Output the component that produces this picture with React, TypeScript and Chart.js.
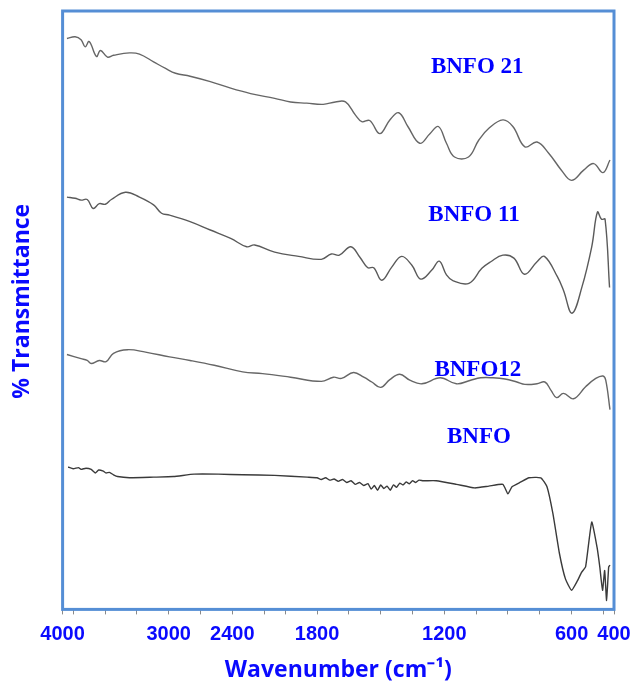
import React, { useEffect, useRef } from 'react';
import { Chart, registerables } from 'chart.js';

Chart.register(...registerables);

// Axis is compressed 2x above 2000 cm-1 (usual FTIR break)
const AXIS_BREAK = 2000;
const toAxis = (wn: number) => (wn > AXIS_BREAK ? AXIS_BREAK + (wn - AXIS_BREAK) / 2 : wn);
const fromAxis = (u: number) => (u > AXIS_BREAK ? AXIS_BREAK + (u - AXIS_BREAK) * 2 : u);

const TICK_LABELS = [4000, 3000, 2400, 1800, 1200, 600, 400];
const MINOR_TICKS = [3900, 3600, 3300, 2700, 2100, 1950, 1650, 1500, 1350, 1050, 900, 750, 450];

const BNFO21_WN = [3959, 3882, 3826, 3787, 3749, 3681, 3643, 3577, 3520, 3369, 3275, 3142, 3029, 2935, 2798, 2607, 2415, 2227, 2000, 1925, 1849, 1771, 1714, 1666, 1619, 1589, 1552, 1504, 1457, 1415, 1372, 1316, 1268, 1228, 1190, 1152, 1086, 1038, 990, 924, 877, 820, 763, 707, 648, 600, 543, 496, 452, 419];
const BNFO21_T = [95.4, 95.7, 95.2, 94.0, 94.9, 92.4, 93.4, 92.3, 92.6, 93.0, 92.8, 91.5, 90.4, 89.6, 89.1, 88.2, 87.1, 86.2, 85.4, 84.8, 84.6, 84.4, 84.8, 84.8, 82.6, 81.5, 81.7, 79.5, 81.8, 83.0, 80.7, 77.9, 79.5, 80.7, 77.9, 75.6, 75.6, 78.4, 80.4, 81.8, 80.7, 77.3, 78.1, 76.2, 73.4, 71.7, 73.4, 74.5, 73.0, 75.1];

const BNFO11_WN = [3959, 3882, 3826, 3768, 3712, 3654, 3597, 3540, 3407, 3275, 3142, 3067, 2991, 2798, 2607, 2415, 2264, 2189, 2000, 1887, 1780, 1733, 1695, 1641, 1599, 1561, 1533, 1495, 1448, 1401, 1353, 1311, 1259, 1224, 1190, 1158, 1084, 1023, 981, 924, 872, 822, 763, 728, 667, 638, 598, 551, 505, 478, 459, 442, 421];
const BNFO11_T = [68.9, 68.7, 68.4, 68.5, 67.0, 67.8, 67.7, 68.5, 69.7, 68.9, 67.6, 66.2, 65.9, 64.8, 63.4, 62.0, 60.6, 60.9, 59.7, 59.0, 58.5, 59.4, 59.2, 60.6, 58.9, 57.1, 57.1, 55.0, 57.2, 59.0, 57.5, 55.2, 56.7, 58.2, 55.9, 54.9, 54.5, 57.0, 58.1, 59.2, 58.7, 56.0, 58.1, 59.0, 55.6, 53.3, 49.5, 53.9, 60.6, 66.4, 65.2, 65.2, 53.8];

const BNFO12_WN = [3959, 3826, 3768, 3730, 3654, 3590, 3520, 3388, 3218, 2991, 2798, 2570, 2302, 2114, 1925, 1780, 1723, 1685, 1628, 1580, 1542, 1500, 1457, 1410, 1363, 1306, 1219, 1143, 1076, 1029, 971, 914, 858, 820, 763, 726, 697, 671, 638, 591, 534, 486, 452, 439, 419];
const BNFO12_T = [42.6, 41.9, 41.6, 41.1, 41.6, 41.4, 42.8, 43.4, 43.0, 42.2, 41.6, 40.8, 39.7, 39.4, 38.8, 38.1, 38.8, 38.6, 39.6, 38.8, 38.0, 37.1, 38.4, 39.3, 38.3, 37.7, 38.7, 37.7, 38.3, 38.7, 38.7, 38.5, 38.0, 37.6, 37.7, 38.0, 36.6, 35.4, 36.1, 35.2, 37.2, 38.6, 39.0, 38.3, 33.4];

const BNFO_WN = [3948, 3900, 3850, 3826, 3780, 3730, 3692, 3660, 3616, 3590, 3558, 3520, 3482, 3369, 3142, 2954, 2760, 2532, 2302, 2000, 1847, 1800, 1780, 1760, 1740, 1720, 1700, 1680, 1660, 1640, 1620, 1600, 1580, 1560, 1545, 1530, 1515, 1500, 1485, 1470, 1455, 1440, 1425, 1410, 1395, 1380, 1365, 1350, 1335, 1320, 1300, 1238, 1143, 1057, 990, 924, 900, 881, 839, 801, 745, 716, 688, 657, 629, 600, 572, 553, 534, 505, 480, 467, 454, 444, 435, 425, 419];
const BNFO_T = [23.8, 23.5, 23.7, 23.4, 23.6, 23.4, 22.8, 23.3, 23.1, 22.8, 22.9, 22.5, 22.2, 22.0, 22.1, 22.2, 22.6, 22.6, 22.5, 22.4, 22.1, 22.0, 21.7, 22.0, 21.6, 21.8, 21.4, 21.7, 21.2, 21.5, 20.9, 21.2, 20.7, 21.0, 20.1, 20.7, 19.9, 20.8, 20.2, 20.6, 19.9, 20.8, 20.4, 21.1, 20.8, 21.3, 21.0, 21.5, 21.2, 21.6, 21.5, 21.5, 20.9, 20.3, 20.6, 20.9, 19.3, 20.5, 21.3, 22.0, 22.0, 20.5, 16.0, 9.3, 5.1, 3.2, 4.8, 6.2, 7.1, 14.6, 10.4, 7.1, 3.2, 6.5, 1.5, 7.1, 7.4];

const CURVE_LABELS = ['BNFO 21', 'BNFO 11', 'BNFO12', 'BNFO'];
const LABEL_WN = [1045, 1060, 1042, 1037];
const LABEL_T = [90.6, 65.9, 40.0, 28.8];

const BLUE = '#0a0aff';
const FRAME = '#558ed5';

const toPoints = (wn: number[], t: number[]) => wn.map((w, i) => ({ x: toAxis(w), y: t[i] }));

const framePlugin = {
  id: 'frameAndLabels',
  afterDatasetsDraw(chart: any) {
    const { ctx, chartArea, scales } = chart;
    ctx.save();
    ctx.strokeStyle = FRAME;
    ctx.lineWidth = 3;
    ctx.strokeRect(chartArea.left, chartArea.top, chartArea.right - chartArea.left, chartArea.bottom - chartArea.top);
    ctx.fillStyle = '#0000ff';
    ctx.font = 'bold 23px "Liberation Serif", "Times New Roman", serif';
    ctx.textAlign = 'center';
    ctx.textBaseline = 'middle';
    CURVE_LABELS.forEach((txt, i) => {
      const x = scales.x.getPixelForValue(toAxis(LABEL_WN[i]));
      const y = scales.y.getPixelForValue(LABEL_T[i]);
      ctx.fillText(txt, x, y);
    });
    ctx.restore();
  },
};

export default function App() {
  const ref = useRef<HTMLCanvasElement | null>(null);
  useEffect(() => {
    document.body.style.margin = '0';
    if (!ref.current) return;
    const lineDs = (label: string, wn: number[], t: number[], color: string, tension: number) => ({
      label,
      data: toPoints(wn, t),
      borderColor: color,
      borderWidth: 1.4,
      pointRadius: 0,
      tension,
      fill: false,
    });
    const chart = new Chart(ref.current, {
      type: 'line',
      data: {
        datasets: [
          lineDs('BNFO 21', BNFO21_WN, BNFO21_T, '#666666', 0.4),
          lineDs('BNFO 11', BNFO11_WN, BNFO11_T, '#5a5a5a', 0.4),
          lineDs('BNFO12', BNFO12_WN, BNFO12_T, '#666666', 0.4),
          lineDs('BNFO', BNFO_WN, BNFO_T, '#3a3a3a', 0.15),
        ],
      },
      options: {
        animation: false,
        responsive: true,
        maintainAspectRatio: false,
        layout: { padding: { left: 4, right: 18, top: 11, bottom: 3 } },
        plugins: { legend: { display: false }, tooltip: { enabled: false } },
        scales: {
          x: {
            type: 'linear',
            min: toAxis(400),
            max: toAxis(4000),
            reverse: true,
            border: { display: false },
            grid: { display: true, drawOnChartArea: false, drawTicks: true, tickLength: 5, color: '#8a8a8a' },
            afterBuildTicks: (scale: any) => {
              scale.ticks = [...TICK_LABELS, ...MINOR_TICKS]
                .map((w) => toAxis(w))
                .sort((a, b) => a - b)
                .map((v) => ({ value: v }));
            },
            afterFit: (scale: any) => {
              scale.paddingLeft = 0;
              scale.paddingRight = 0;
            },
            ticks: {
              autoSkip: false,
              maxRotation: 0,
              padding: 8,
              color: BLUE,
              font: { family: '"Liberation Sans", Arial, sans-serif', weight: 'bold', size: 20 },
              callback: (value: any) => {
                const wn = Math.round(fromAxis(Number(value)));
                return TICK_LABELS.includes(wn) ? String(wn) : '';
              },
            },
            title: {
              display: true,
              text: 'Wavenumber (cm\u207B\u00B9)',
              color: BLUE,
              font: { family: '"Open Sans", sans-serif', weight: 'bold', size: 23 },
              padding: { top: 2, bottom: 0 },
            },
          },
          y: {
            type: 'linear',
            min: 0,
            max: 100,
            border: { display: false },
            grid: { display: false, drawTicks: false },
            ticks: { display: false },
            title: {
              display: true,
              text: '   % Transmittance',
              color: BLUE,
              font: { family: '"Open Sans", sans-serif', weight: 'bold', size: 23 },
              padding: { top: 5, bottom: 26 },
            },
          },
        },
      },
      plugins: [framePlugin],
    } as any);
    return () => chart.destroy();
  }, []);
  return (
    <div style={{ position: 'relative', width: 632, height: 687 }}>
      <canvas ref={ref} />
    </div>
  );
}
